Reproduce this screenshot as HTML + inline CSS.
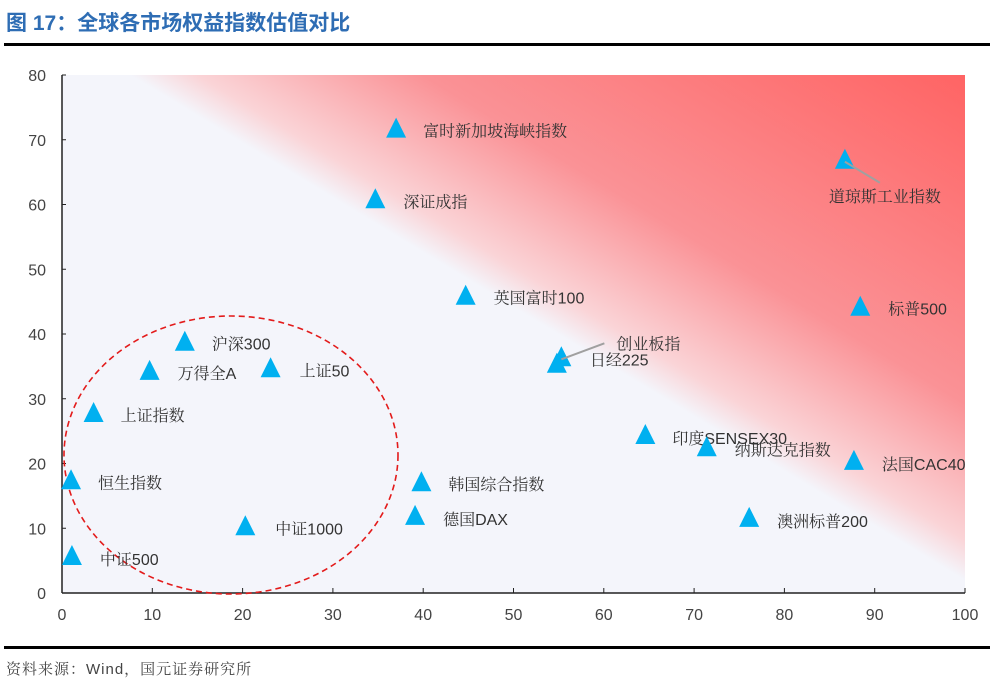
<!DOCTYPE html>
<html><head><meta charset="utf-8"><style>
body{margin:0;width:992px;height:689px;background:#fff;overflow:hidden;font-family:"Liberation Sans","Noto Serif CJK SC","Noto Sans CJK SC",serif;}
svg{position:absolute;left:0;top:0}
</style></head><body>
<svg id="c" width="992" height="689">
<defs>
<linearGradient id="g" gradientUnits="userSpaceOnUse" x1="548" y1="328" x2="772" y2="-42">
<stop offset="0" stop-color="#f4f5fb"/>
<stop offset="0.08" stop-color="#fad4d7"/>
<stop offset="0.35" stop-color="#fa9296"/>
<stop offset="1" stop-color="#ff6464"/>
</linearGradient>
</defs>
<text x="6" y="30" fill="#2e6db4" font-size="21" font-weight="bold" font-family="'Liberation Sans','Noto Sans CJK SC',sans-serif">图 17：全球各市场权益指数估值对比</text>
<rect x="4" y="43" width="986" height="3" fill="#000"/>
<rect x="62" y="75" width="903" height="518" fill="url(#g)"/>
<g id="axes"></g>
<g id="marks"></g>
<rect x="4" y="646" width="986" height="3" fill="#000"/>
<text x="6" y="674" fill="#444" font-size="15" letter-spacing="1">资料来源：Wind，国元证券研究所</text>
</svg>
<script>
const names=["富时新加坡海峡指数","深证成指","道琼斯工业指数","英国富时100","标普500","创业板指","日经225","沪深300","万得全A","上证50","上证指数","印度SENSEX30","纳斯达克指数","法国CAC40","恒生指数","韩国综合指数","德国DAX","澳洲标普200","中证1000","中证500"];
const xVals=[37.0,34.7,86.7,44.7,88.4,55.3,54.8,13.6,9.7,23.1,3.5,64.6,71.4,87.7,1.0,39.8,39.1,76.1,20.3,1.1];
const yVals=[71.4,60.5,66.6,45.6,43.9,36.1,35.1,38.5,34.0,34.4,27.5,24.1,22.2,20.1,17.1,16.8,11.6,11.3,10.0,5.4];
const xTicks=[0,10,20,30,40,50,60,70,80,90,100];
const yTicks=[0,10,20,30,40,50,60,70,80];
const labelDx=[27,28,-16,28,28,55,33,27,28,29,27,27,28,28,27,27,28,28,30,28];
const labelDy=[0,0,34,0,0,-16,-6,0,0,0,0,1,0,1,0,0,1,1,0,1];
const leader=[false,false,true,false,false,true,false,false,false,false,false,false,false,false,false,false,false,false,false,false];
const X=v=>62+v*9.03, Y=v=>593-v*6.475;
const NS="http://www.w3.org/2000/svg";
function mk(t,a,p){const e=document.createElementNS(NS,t);for(const k in a)e.setAttribute(k,a[k]);p.appendChild(e);return e;}
const ax=document.getElementById('axes'), mg=document.getElementById('marks');
let l=mk('line',{x1:62,y1:75,x2:62,y2:593,stroke:'#222','stroke-width':1.5},ax);


l=mk('line',{x1:62,y1:593,x2:965,y2:593,stroke:'#222','stroke-width':1.5},ax);


yTicks.forEach(v=>{const t=mk('text',{x:46,y:Y(v)+6,'text-anchor':'end','font-size':16,fill:'#444'},ax);t.textContent=v;


mk('line',{x1:62,y1:Y(v),x2:66,y2:Y(v),stroke:'#222'},ax);});
xTicks.forEach(v=>{const t=mk('text',{x:X(v),y:620,'text-anchor':'middle','font-size':16,fill:'#444'},ax);t.textContent=v;


mk('line',{x1:X(v),y1:593,x2:X(v),y2:588,stroke:'#222'},ax);});
const el=mk('ellipse',{cx:231,cy:455,rx:167,ry:139,fill:'none',stroke:'#e31b1b','stroke-width':1.6,'stroke-dasharray':'6 4'},mg);


names.forEach((n,i)=>{const px=X(xVals[i]),py=Y(yVals[i]);
const tr=mk('polygon',{points:`${px},${py-13} ${px-10},${py+7} ${px+10},${py+7}`,fill:'#00b0f0'},mg);


const lx=px+labelDx[i], ly=py+labelDy[i];
if(leader[i]){mk('line',{x1:px,y1:py,x2:labelDx[i]>40?lx-12:px+35,y2:labelDx[i]>40?ly:py+21,stroke:'#a0a0a0','stroke-width':2},mg);}
const t=mk('text',{x:lx,y:ly+6,'font-size':16,fill:'#333'},mg);t.textContent=n;


});
</script>
</body></html>
